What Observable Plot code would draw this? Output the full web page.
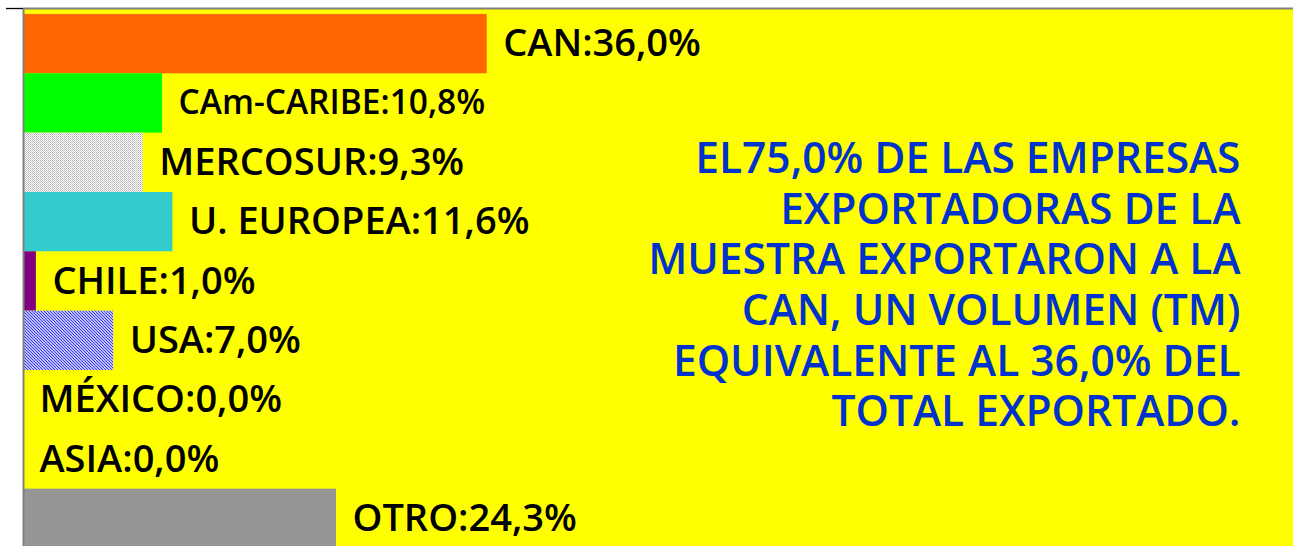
<!DOCTYPE html>
<html>
<head>
<meta charset="utf-8">
<script src="https://cdn.jsdelivr.net/npm/d3@7"></script>
<script src="https://cdn.jsdelivr.net/npm/@observablehq/plot@0.6"></script>
<style>
  html, body { margin: 0; padding: 0; background: #ffffff; overflow: hidden; }
</style>
</head>
<body>
<div id="chart"></div>
<script>
const categories = ["CAN", "CAm-CARIBE", "MERCOSUR", "U. EUROPEA", "CHILE", "USA", "MÉXICO", "ASIA", "OTRO"];
const values = [36.0, 10.8, 9.3, 11.6, 1.0, 7.0, 0.0, 0.0, 24.3];
const barColors = ["#FF6600", "#00FF00", "url(#dots)", "#33CCCC", "#800080", "url(#hatch)", "#FFFFFF", "#FFFFFF", "#969696"];
const noteLines = [
  "EL75,0% DE LAS EMPRESAS",
  "EXPORTADORAS DE LA",
  "MUESTRA EXPORTARON A LA",
  "CAN, UN VOLUMEN (TM)",
  "EQUIVALENTE AL 36,0% DEL",
  "TOTAL EXPORTADO."
];

const table = categories.map((region, i) => ({region, value: values[i], i}));
const fmt = v => v.toFixed(1).replace(".", ",") + "%";
const label = d => `${d.region}:${fmt(d.value)}`;

const svg = Plot.plot({
  width: 1293,
  height: 546,
  marginTop: 8,
  marginLeft: 23,
  marginRight: 0,
  marginBottom: 0,
  style: {fontFamily: "'Open Sans', sans-serif", background: "#ffffff"},
  x: {domain: [0, 98.6], axis: null},
  y: {domain: [-0.1, 9], range: [8, 548], axis: null},
  color: {domain: categories, range: barColors},
  marks: [
    Plot.frame({fill: "#FFFF00", stroke: "none"}),
    Plot.rect(table, {x1: 0, x2: "value", y1: d => d.i, y2: d => d.i + 1, fill: "region"}),
    Plot.ruleY([-0.1], {stroke: "#808080", strokeWidth: 2}),
    Plot.ruleX([0], {stroke: "#808080", strokeWidth: 2}),
    Plot.ruleY([-0.1], {x1: -1.32, x2: 0, stroke: "#000000", strokeWidth: 1.3}),
    Plot.text(table.filter(d => d.region !== "CAm-CARIBE"), {
      x: "value", y: d => d.i + 0.5, text: label, dx: 16, textAnchor: "start",
      fontSize: 38, fontWeight: 600, fill: "#000000"
    }),
    Plot.text(table.filter(d => d.region === "CAm-CARIBE"), {
      x: "value", y: d => d.i + 0.5, text: label, dx: 16, textAnchor: "start",
      fontSize: 33.5, fontWeight: 600, fill: "#000000"
    }),
    Plot.text([noteLines.join("\n")], {
      frameAnchor: "right", dx: -53, dy: 6, textAnchor: "end",
      fontSize: 42.5, lineHeight: 1.19, fontWeight: 600, fill: "#0033CC"
    })
  ]
});

const defs = d3.select(svg).insert("defs", ":first-child");
const dots = defs.append("pattern").attr("id", "dots").attr("patternUnits", "userSpaceOnUse")
  .attr("width", 2).attr("height", 2);
dots.append("rect").attr("width", 2).attr("height", 2).attr("fill", "#FFFFFF");
dots.append("rect").attr("width", 1).attr("height", 1).attr("fill", "#B4B4B4");
dots.append("rect").attr("x", 1).attr("y", 1).attr("width", 1).attr("height", 1).attr("fill", "#C8C8C8");
const hatch = defs.append("pattern").attr("id", "hatch").attr("patternUnits", "userSpaceOnUse")
  .attr("width", 3).attr("height", 3);
hatch.append("rect").attr("width", 3).attr("height", 3).attr("fill", "#FFFFFF");
hatch.append("path").attr("d", "M0,0 L3,3 M-1,2 L1,4 M2,-1 L4,1").attr("stroke", "#3333FF").attr("stroke-width", 1.2);

document.getElementById("chart").appendChild(svg);
</script>
</body>
</html>
